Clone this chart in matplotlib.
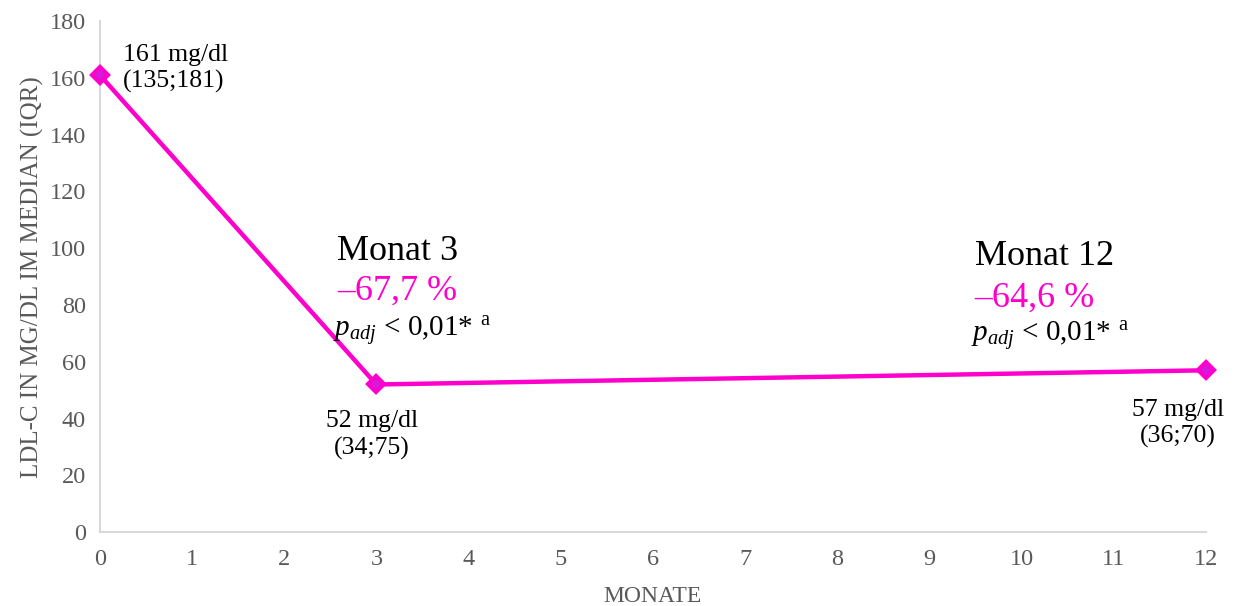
import matplotlib
matplotlib.use("Agg")
import matplotlib.pyplot as plt

# Daten
monate = [0, 3, 12]
ldl_median = [161, 52, 57]
punkt_labels = ["161 mg/dl\n(135;181)", "52 mg/dl\n(34;75)", "57 mg/dl\n(36;70)"]
monat_titel = ["Monat 3", "Monat 12"]
reduktion = ["–67,7 %", "–64,6 %"]
x_ticks = list(range(0, 13))
y_ticks = list(range(0, 181, 20))

MAGENTA = "#FF00CC"
GRAU = "#595959"

plt.rcParams["font.family"] = ["Liberation Serif", "DejaVu Serif"]
plt.rcParams["mathtext.fontset"] = "custom"
plt.rcParams["mathtext.rm"] = "Liberation Serif"
plt.rcParams["mathtext.it"] = "Liberation Serif:italic"

fig = plt.figure(figsize=(12.37, 6.06), dpi=100)
ax = fig.add_axes([0.0808, 0.122, 0.894, 0.843])

ax.plot(monate, ldl_median, color=MAGENTA, linewidth=3.2, marker="D",
        markersize=8.5, markerfacecolor="#D41ADA", markeredgecolor=MAGENTA,
        markeredgewidth=3, solid_joinstyle="round", clip_on=False, zorder=3)

ax.set_xlim(0, 12)
ax.set_ylim(0, 180)
ax.set_xticks(x_ticks)
ax.set_yticks(y_ticks)
ax.tick_params(length=0, labelsize=17.5, labelcolor=GRAU, pad=12)
ax.tick_params(axis="y", pad=10)
for s in ["top", "right"]:
    ax.spines[s].set_visible(False)
for s in ["left", "bottom"]:
    ax.spines[s].set_color("#D9D9D9")
    ax.spines[s].set_linewidth(1.5)

ax.set_xlabel("MONATE", fontsize=17, color=GRAU, labelpad=12)
ax.set_ylabel("LDL-C IN MG/DL IM MEDIAN (IQR)", fontsize=18, color=GRAU, labelpad=4)

# Punktbeschriftungen
ax.text(0.25, 172, punkt_labels[0], fontsize=18.5, ha="left", va="top", linespacing=1.25)
ax.text(2.95, 43, punkt_labels[1], fontsize=18.5, ha="center", va="top",
        multialignment="center", linespacing=1.25)
ax.text(11.70, 47, punkt_labels[2], fontsize=18.5, ha="center", va="top",
        multialignment="center", linespacing=1.25)

# Monat-Blöcke
blocks = [(2.57, [95.8, 81.7, 68.8]), (9.49, [94.0, 79.3, 67.0])]
p_text = r"$p_{adj}$ < 0,01* $^{\mathrm{a}}$"
for (x0, ys), titel, red in zip(blocks, monat_titel, reduktion):
    ax.text(x0, ys[0], titel, fontsize=26, ha="left", va="baseline")
    ax.text(x0, ys[1], red, fontsize=26, color=MAGENTA, ha="left", va="baseline")
    ax.text(x0 - 0.04, ys[2], p_text, fontsize=21, ha="left", va="baseline")

fig.savefig("out.png", dpi=100)
